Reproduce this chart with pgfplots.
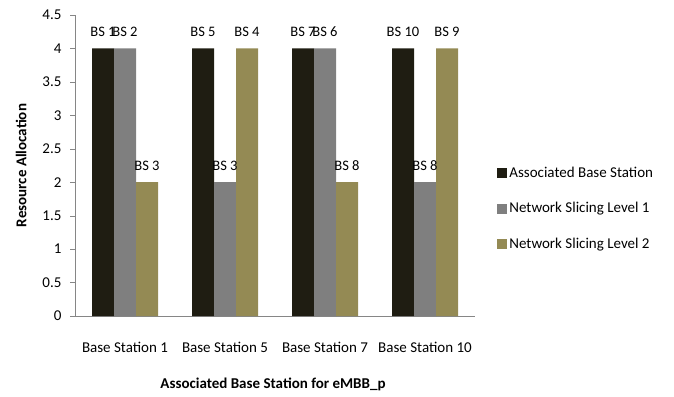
\documentclass[border=0pt]{standalone}
\usepackage{pgfplots}
\pgfplotsset{compat=1.18}
\usepackage{fontspec}
\setmainfont{Carlito}

\definecolor{assoc}{HTML}{1F1D12}
\definecolor{lvlone}{HTML}{7F7F7F}
\definecolor{lvltwo}{HTML}{948A54}
\definecolor{axisgray}{HTML}{868686}

\begin{document}
\begin{tikzpicture}[x=1bp,y=1bp]
\useasboundingbox (0,0) rectangle (674,396);
\begin{axis}[
  at={(75bp,80bp)}, anchor=south west,
  scale only axis,
  width=400bp, height=301bp,
  ybar=0pt, bar width=0.22,
  xmin=-0.5, xmax=3.5,
  ymin=0, ymax=4.5,
  ytick={0,0.5,...,4.5},
  xtick={0,1,2,3},
  xticklabels={Base Station 1,Base Station 5,Base Station 7,Base Station 10},
  axis x line*=bottom, axis y line*=left,
  axis line style={axisgray, -},
  x tick style={draw=none},
  y tick style={axisgray},
  tick align=outside,
  major tick length=5bp,
  /pgf/number format/assume math mode=true,
  tick label style={font=\fontsize{15bp}{17bp}\selectfont, text=black},
  xticklabel style={yshift=-18bp},
  yticklabel style={xshift=-5bp},
  label style={font=\bfseries\fontsize{15bp}{17bp}\selectfont},
  xlabel={Associated Base Station for eMBB\_p},
  ylabel={Resource Allocation},
  xlabel style={at={(axis description cs:0.495,0)}, anchor=north, yshift=-58bp},
  ylabel style={at={(axis description cs:0,0.5)}, anchor=south, yshift=45bp},
  point meta=explicit symbolic,
  nodes near coords,
  every node near coord/.append style={font=\fontsize{14.5bp}{16bp}\selectfont, text=black, anchor=south, yshift=8bp},
  legend style={at={(1.048,0.51)}, anchor=north west, draw=none, fill=none,
    font=\fontsize{15bp}{17bp}\selectfont, row sep=20bp,
    legend cell align=left},
  legend image code/.code={\fill[#1] (0bp,-5bp) rectangle (10bp,5bp);},
]
\addplot[fill=assoc, draw=none] coordinates {(0,4) [BS 1] (1,4) [BS 5] (2,4) [BS 7] (3,4) [BS 10]};
\addplot[fill=lvlone, draw=none] coordinates {(0,4) [BS 2] (1,2) [BS 3] (2,4) [BS 6] (3,2) [BS 8]};
\addplot[fill=lvltwo, draw=none] coordinates {(0,2) [BS 3] (1,4) [BS 4] (2,2) [BS 8] (3,4) [BS 9]};
\legend{Associated Base Station, Network Slicing Level 1, Network Slicing Level 2}
\end{axis}
\end{tikzpicture}
\end{document}
